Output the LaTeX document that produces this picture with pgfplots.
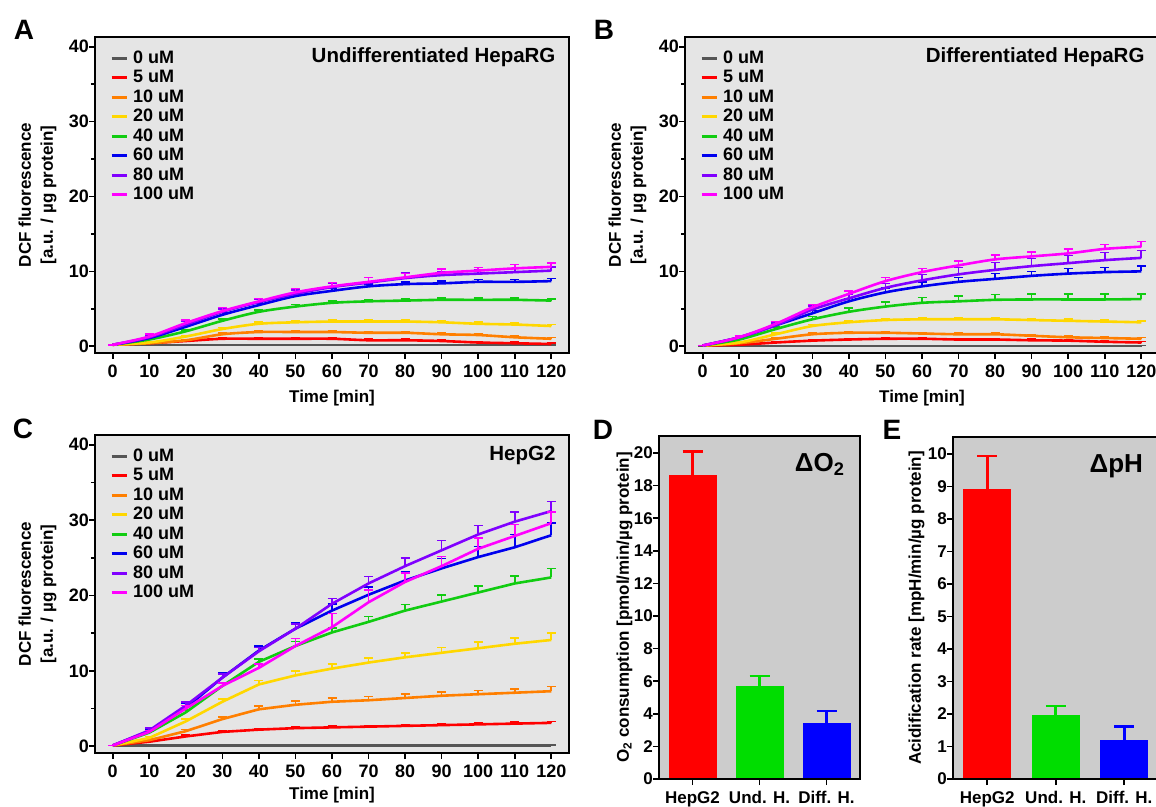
\documentclass[border=0pt]{standalone}
\usepackage{fontspec}
\setmainfont{Liberation Sans}
\usepackage{pgfplots}
\usepackage{pgfplotstable}
\pgfplotsset{compat=1.18}

\definecolor{c0}{HTML}{555555}
\definecolor{c5}{HTML}{FF0000}
\definecolor{c10}{HTML}{FF7F00}
\definecolor{c20}{HTML}{FFD700}
\definecolor{c40}{HTML}{11CC11}
\definecolor{c60}{HTML}{0000EE}
\definecolor{c80}{HTML}{8000FF}
\definecolor{c100}{HTML}{FF00FF}
\definecolor{bgA}{HTML}{E5E5E5}
\definecolor{bgD}{HTML}{CCCCCC}
\definecolor{barR}{HTML}{FF0000}
\definecolor{barG}{HTML}{00DD00}
\definecolor{barB}{HTML}{0000FF}

\newcommand{\tfont}[1]{\bfseries\fontsize{#1}{#1}\selectfont}

% undifferentiated HepaRG
\pgfplotstableread{
t   y0   y5   y10  y20  y40  y60  y80  y100 e0   e5   e10  e20  e40  e60  e80  e100
0   0.15 0.2  0.2  0.2  0.2  0.2  0.2  0.2  0    0    0    0    0    0    0    0
10  0.15 0.4  0.4  0.5  0.9  1.1  1.2  1.3  0.05 0.1  0.1  0.1  0.15 0.2  0.2  0.3
20  0.15 0.7  0.8  1.3  2.0  2.6  2.9  3.1  0.05 0.1  0.1  0.15 0.2  0.3  0.4  0.4
30  0.15 1.0  1.6  2.3  3.4  4.2  4.6  4.7  0.05 0.15 0.15 0.2  0.25 0.3  0.4  0.5
40  0.15 1.0  1.9  3.0  4.6  5.5  5.9  6.0  0.05 0.15 0.15 0.2  0.25 0.3  0.4  0.4
50  0.15 1.0  1.9  3.2  5.3  6.7  7.0  7.2  0.05 0.15 0.15 0.2  0.25 0.3  0.5  0.5
60  0.15 1.0  1.9  3.3  5.8  7.4  7.9  8.0  0.05 0.15 0.15 0.2  0.25 0.3  0.5  0.5
70  0.15 0.8  1.8  3.3  6.0  8.0  8.5  8.6  0.05 0.15 0.15 0.2  0.25 0.3  0.7  0.6
80  0.15 0.8  1.8  3.3  6.1  8.3  9.1  9.2  0.05 0.15 0.15 0.2  0.25 0.3  0.7  0.5
90  0.15 0.7  1.6  3.2  6.2  8.4  9.5  9.8  0.05 0.15 0.15 0.2  0.25 0.3  0.5  0.5
100 0.15 0.5  1.5  3.0  6.2  8.6  9.7  10.1 0.05 0.15 0.15 0.2  0.25 0.3  0.5  0.4
110 0.15 0.4  1.2  2.9  6.2  8.6  9.9  10.4 0.05 0.15 0.15 0.2  0.25 0.3  0.5  0.5
120 0.15 0.3  1.0  2.7  6.1  8.7  10.1 10.6 0.05 0.15 0.15 0.2  0.25 0.35 0.5  0.5
}\tabA

% differentiated HepaRG
\pgfplotstableread{
t   y0   y5   y10  y20  y40  y60  y80  y100 e0   e5   e10  e20  e40  e60  e80  e100
0   0.05 0.1  0.1  0.1  0.1  0.1  0.1  0.1  0    0    0    0    0    0    0    0
10  0.05 0.2  0.4  0.5  0.9  1.2  1.2  1.2  0.05 0.1  0.1  0.1  0.2  0.2  0.2  0.2
20  0.05 0.5  1.0  1.6  2.3  2.8  2.8  3.0  0.05 0.1  0.1  0.15 0.3  0.3  0.3  0.3
30  0.05 0.75 1.6  2.7  3.6  4.4  4.9  5.2  0.05 0.1  0.15 0.2  0.4  0.4  0.5  0.4
40  0.05 0.9  1.8  3.2  4.6  6.0  6.4  7.0  0.05 0.1  0.15 0.2  0.5  0.4  0.5  0.4
50  0.05 1.0  1.8  3.5  5.3  7.2  7.8  8.7  0.05 0.15 0.15 0.2  0.6  0.6  0.6  0.5
60  0.05 1.0  1.7  3.6  5.8  8.0  8.8  9.9  0.05 0.15 0.15 0.2  0.7  0.6  0.8  0.5
70  0.05 0.9  1.6  3.6  6.0  8.6  9.6  10.8 0.05 0.15 0.15 0.2  0.7  0.6  0.9  0.6
80  0.05 0.9  1.6  3.6  6.2  9.0  10.2 11.6 0.05 0.15 0.15 0.2  0.7  0.7  1.0  0.6
90  0.05 0.8  1.4  3.5  6.25 9.4  10.7 12.0 0.05 0.15 0.15 0.2  0.7  0.6  1.0  0.6
100 0.05 0.75 1.2  3.4  6.25 9.7  11.1 12.4 0.05 0.15 0.15 0.2  0.7  0.7  1.0  0.6
110 0.05 0.6  1.1  3.3  6.25 9.9  11.5 13.0 0.05 0.15 0.15 0.2  0.7  0.6  1.0  0.6
120 0.05 0.5  1.0  3.2  6.3  10.0 11.8 13.3 0.05 0.15 0.15 0.2  0.7  0.7  1.0  0.7
}\tabB

% HepG2
\pgfplotstableread{
t   y0   y5   y10  y20  y40  y60  y80  y100 e0   e5   e10  e20  e40  e60  e80  e100
0   0.1  0.1  0.1  0.1  0.1  0.1  0.1  0.1  0    0    0    0    0    0    0    0
10  0.1  0.6  0.8  1.1  1.8  2.0  2.1  1.9  0.05 0.1  0.15 0.2  0.2  0.3  0.3  0.2
20  0.1  1.3  2.0  3.3  4.5  5.1  5.4  5.0  0.05 0.15 0.2  0.3  0.3  0.6  0.5  0.4
30  0.1  1.9  3.6  5.9  8.0  9.1  9.1  8.0  0.05 0.15 0.3  0.4  0.4  0.6  0.5  0.4
40  0.1  2.2  4.9  8.2  11.2 12.7 12.6 10.4 0.05 0.15 0.4  0.5  0.4  0.6  0.5  0.5
50  0.1  2.4  5.5  9.4  13.3 15.6 15.6 13.3 0.05 0.15 0.5  0.6  0.6  0.8  0.6  1.0
60  0.1  2.5  5.9  10.3 15.1 18.0 18.9 15.8 0.05 0.15 0.5  0.6  0.6  0.9  0.7  1.8
70  0.1  2.6  6.1  11.1 16.5 20.1 21.6 19.1 0.05 0.15 0.5  0.6  0.7  1.0  0.9  1.6
80  0.1  2.7  6.4  11.8 18.0 22.0 23.9 21.8 0.05 0.2  0.5  0.6  0.8  1.1  1.1  1.2
90  0.1  2.8  6.7  12.4 19.2 23.6 26.0 23.9 0.05 0.2  0.5  0.7  0.9  1.3  1.3  1.3
100 0.1  2.9  6.9  13.0 20.4 25.1 28.1 26.2 0.05 0.2  0.5  0.8  0.9  1.4  1.2  1.4
110 0.1  3.0  7.1  13.6 21.6 26.4 29.8 27.9 0.05 0.2  0.5  0.8  1.0  1.7  1.3  1.5
120 0.1  3.1  7.3  14.1 22.4 28.0 31.2 29.6 0.05 0.2  0.6  0.9  1.2  1.6  1.3  1.5
}\tabC

\pgfplotsset{
  frame/.style={
    scale only axis, axis on top,
    tick align=outside, tick pos=left,
    axis line style={line width=2.4pt},
    every tick/.style={black, line width=1.6pt},
    major tick length=6pt, minor tick length=4pt,
    /pgf/number format/assume math mode=true,
    tick label style={font=\tfont{18}, inner sep=0pt},
    xticklabel style={yshift=-6pt},
    label style={font=\tfont{17}},
  },
  dcf/.style={frame, width=474pt, height=316pt,
    xmin=-4.85, xmax=124.85, ymin=-0.9, ymax=41.3,
    xtick={0,10,...,120}, ytick={0,10,...,40}, minor ytick={5,15,25,35},
    axis background/.style={fill=bgA},
    xlabel={Time [min]},
    ylabel={DCF fluorescence\\{[}a.u. / µg protein{]}},
    ylabel style={align=center, at={(axis description cs:-0.074,0.5)}, anchor=south,
      font=\bfseries\fontsize{17}{22}\selectfont},
    xlabel style={at={(axis description cs:0.5,-0.142)}, anchor=center},
    every axis plot/.append style={line width=2.6pt},
    legend cell align=left,
    legend image code/.code={\draw[#1, line width=3pt] (0pt,0pt) -- (15pt,0pt);},
    legend style={at={(rel axis cs:0,1)}, anchor=north west, xshift=15pt, yshift=-12pt,
      draw=none, fill=none, font=\tfont{18}, row sep=1.5pt, column sep=4pt, inner sep=0pt,
      nodes={inner sep=1pt, text height=13pt, text depth=3pt}},
  },
  eb/.style={error bars/.cd, y dir=plus, y explicit,
    error bar style={line width=1.6pt, solid},
    error mark options={rotate=90, line width=1.6pt, mark size=4.5pt}},
  barerr/.style={error bars/.cd, y dir=plus, y explicit,
    error bar style={draw=#1, line width=2.6pt},
    error mark options={rotate=90, draw=#1, line width=2.6pt, mark size=10pt}},
}

\newcommand{\series}[2]{%
  \addplot[c0,#2,eb] table[x=t,y=y0,y error=e0]{#1}; \addlegendentry{0 uM}
  \addplot[c5,#2,eb] table[x=t,y=y5,y error=e5]{#1}; \addlegendentry{5 uM}
  \addplot[c10,#2,eb] table[x=t,y=y10,y error=e10]{#1}; \addlegendentry{10 uM}
  \addplot[c20,#2,eb] table[x=t,y=y20,y error=e20]{#1}; \addlegendentry{20 uM}
  \addplot[c40,#2,eb] table[x=t,y=y40,y error=e40]{#1}; \addlegendentry{40 uM}
  \addplot[c60,#2,eb] table[x=t,y=y60,y error=e60]{#1}; \addlegendentry{60 uM}
  \addplot[c80,#2,eb] table[x=t,y=y80,y error=e80]{#1}; \addlegendentry{80 uM}
  \addplot[c100,#2,eb] table[x=t,y=y100,y error=e100]{#1}; \addlegendentry{100 uM}
}

\begin{document}
\begin{tikzpicture}
\path[use as bounding box, clip] (0pt,0pt) rectangle (1156pt,806pt);

% A
\begin{axis}[dcf, at={(95pt,453pt)}, anchor=south west]
\series{\tabA}{smooth}
\node[anchor=east, font=\tfont{20.5}, xshift=-10pt, yshift=-20pt] at (rel axis cs:1,1) {Undifferentiated HepaRG};
\end{axis}

% B
\begin{axis}[dcf, at={(685pt,453pt)}, anchor=south west]
\series{\tabB}{smooth}
\node[anchor=east, font=\tfont{20.5}, xshift=-11pt, yshift=-20pt] at (rel axis cs:1,1) {Differentiated HepaRG};
\end{axis}

% C
\begin{axis}[dcf, at={(95pt,53pt)}, anchor=south west, height=318pt,
  xlabel style={at={(axis description cs:0.5,-0.132)}}]
\series{\tabC}{sharp plot}
\node[anchor=east, font=\tfont{20.5}, xshift=-10pt, yshift=-20pt] at (rel axis cs:1,1) {HepG2};
\end{axis}

% D
\begin{axis}[frame, at={(659pt,27pt)}, anchor=south west, width=201pt, height=343pt,
  xmin=-0.5, xmax=2.5, ymin=0, ymax=21.04,
  xtick={0,1,2}, xticklabels={HepG2,Und. H.,Diff. H.}, ytick={0,2,...,20},
  axis background/.style={fill=bgD}, tick label style={font=\tfont{17}},
  ylabel={O\textsubscript{2} consumption [pmol/min/µg protein]},
  ylabel style={at={(axis description cs:-0.114,0.5)}, anchor=south}]
\addplot[ybar, bar width=48pt, bar shift=0pt, fill=barR, draw=none, barerr=barR]
  coordinates {(0,18.63) +- (0,1.47)};
\addplot[ybar, bar width=48pt, bar shift=0pt, fill=barG, draw=none, barerr=barG]
  coordinates {(1,5.70) +- (0,0.62)};
\addplot[ybar, bar width=48pt, bar shift=0pt, fill=barB, draw=none, barerr=barB]
  coordinates {(2,3.43) +- (0,0.73)};
\node[anchor=north east, font=\tfont{26}, xshift=-12pt, yshift=-14pt] at (rel axis cs:1,1) {ΔO\textsubscript{2}};
\end{axis}

% E
\begin{axis}[frame, at={(953pt,27pt)}, anchor=south west, width=205.5pt, height=342pt,
  xmin=-0.5, xmax=2.5, ymin=0, ymax=10.52,
  xtick={0,1,2}, xticklabels={HepG2,Und. H.,Diff. H.}, ytick={0,1,...,10},
  axis background/.style={fill=bgD}, tick label style={font=\tfont{17}},
  ylabel={Acidification rate [mpH/min/µg protein]},
  ylabel style={at={(axis description cs:-0.122,0.5)}, anchor=south}]
\addplot[ybar, bar width=48pt, bar shift=0pt, fill=barR, draw=none, barerr=barR]
  coordinates {(0,8.92) +- (0,1.01)};
\addplot[ybar, bar width=48pt, bar shift=0pt, fill=barG, draw=none, barerr=barG]
  coordinates {(1,1.98) +- (0,0.26)};
\addplot[ybar, bar width=48pt, bar shift=0pt, fill=barB, draw=none, barerr=barB]
  coordinates {(2,1.21) +- (0,0.40)};
\node[anchor=north east, font=\tfont{26}, xshift=-12pt, yshift=-14pt] at (rel axis cs:1,1) {ΔpH};
\end{axis}

% panel letters
\node[font=\tfont{28}] at (24pt,776pt) {A};
\node[font=\tfont{28}] at (604pt,776pt) {B};
\node[font=\tfont{28}] at (23pt,377pt) {C};
\node[font=\tfont{28}] at (603pt,376pt) {D};
\node[font=\tfont{28}] at (892pt,376pt) {E};
\end{tikzpicture}
\end{document}
